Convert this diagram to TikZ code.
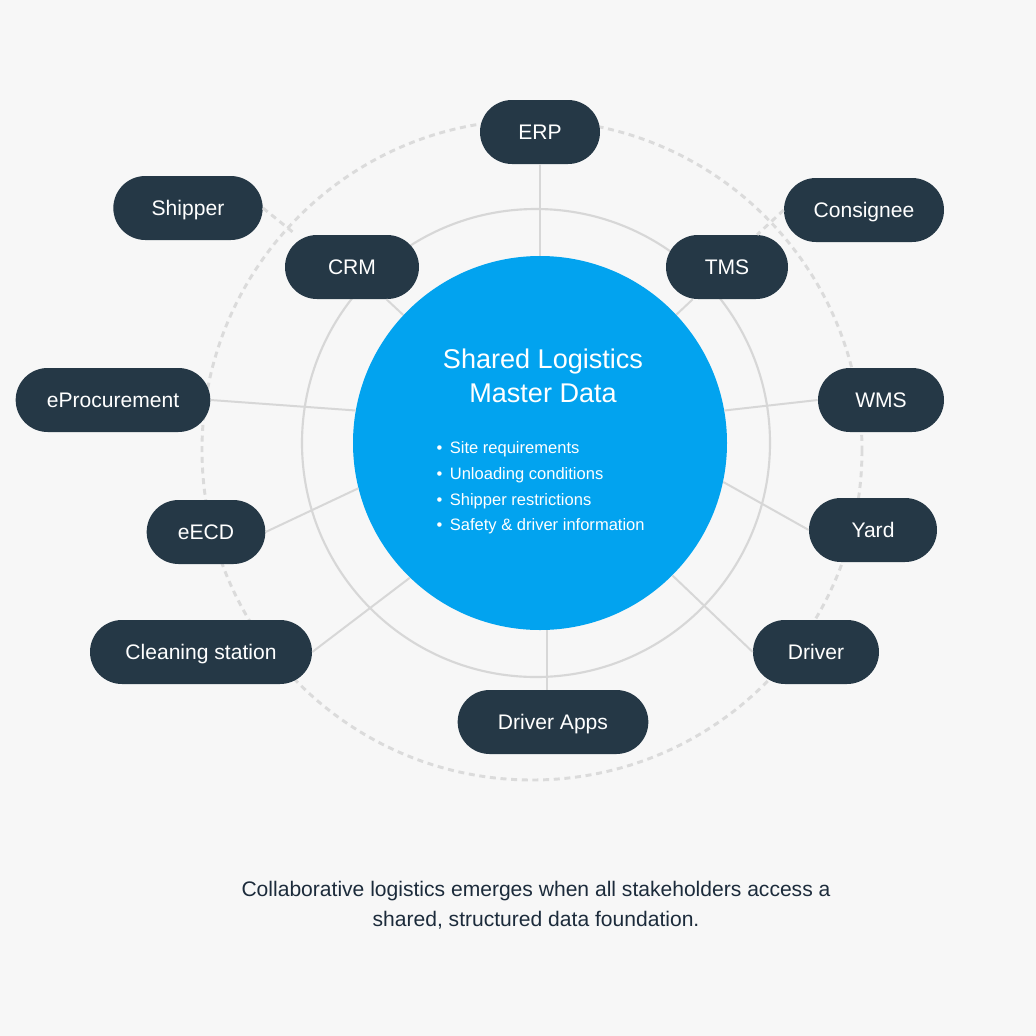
\documentclass[tikz,border=0pt]{standalone}
\usepackage{fontspec}
\setmainfont{Liberation Sans}
\definecolor{HubPage}{HTML}{F7F7F7}
\definecolor{HubNavy}{HTML}{253846}
\definecolor{HubBlue}{HTML}{02A3EF}
\definecolor{HubLine}{HTML}{D7D7D7}
\definecolor{HubDash}{HTML}{DBDBDB}
\definecolor{HubInk}{HTML}{1C2B3B}
\tikzset{
  pill/.style={fill=HubNavy, rounded corners=24pt, align=center, minimum height=48pt, inner sep=0pt, text height=11.3pt, text depth=0pt, text=white, font=\fontsize{15.8}{18}\selectfont},
  hub/.style={circle, fill=HubBlue, minimum size=280.5pt, inner sep=0pt},
  spoke/.style={draw=HubLine, line width=1.5pt},
  link/.style={draw=HubDash, line width=2.2pt, dash pattern=on 4.5pt off 3.5pt},
  ring/.style={draw=HubLine, line width=1.6pt},
  orbit/.style={draw=HubDash, line width=2.2pt, dash pattern=on 4.5pt off 3.5pt},
  caption/.style={align=center, text=HubInk, font=\fontsize{15.8}{22.5}\selectfont}
}
\begin{document}
\begin{tikzpicture}[x=0.75pt, y=-0.75pt]
    \fill[HubPage] (0,0) rectangle (1036,1036);

    % rings
    \draw[orbit] (532,450) circle[radius=330];
    \draw[ring] (536,443) circle[radius=234];

    % hub
    \node[hub] (hub) at (540,443) {};
    \node[text=white, align=center, font=\fontsize{20.3}{25.5}\selectfont] (title) at (543,376) {Shared Logistics\\Master Data};
    \node[text=white, align=left, anchor=west, font=\fontsize{12.4}{19.3}\selectfont] (facts) at (432,488)
      {\textbullet\hspace{5.5pt}Site requirements\\
       \textbullet\hspace{5.5pt}Unloading conditions\\
       \textbullet\hspace{5.5pt}Shipper restrictions\\
       \textbullet\hspace{5.5pt}Safety \& driver information};

    % systems and stakeholders
    \node[pill, minimum width=90pt] (erp) at (540,132) {ERP};
    \node[pill, minimum width=112pt] (shipper) at (188,208) {Shipper};
    \node[pill, minimum width=100.5pt] (crm) at (352,267) {CRM};
    \node[pill, minimum width=120pt] (consignee) at (864,210) {Consignee};
    \node[pill, minimum width=91.5pt] (tms) at (727,267) {TMS};
    \node[pill, minimum width=146pt] (eproc) at (113,400) {eProcurement};
    \node[pill, minimum width=94.5pt] (wms) at (881,400) {WMS};
    \node[pill, minimum width=89pt] (eecd) at (206,532) {eECD};
    \node[pill, minimum width=96pt] (yard) at (873,530) {Yard};
    \node[pill, minimum width=166.5pt] (clean) at (201,652) {Cleaning station};
    \node[pill, minimum width=94.5pt] (driver) at (816,652) {Driver};
    \node[pill, minimum width=143pt] (apps) at (553,722) {Driver Apps};

    % connectors
    \draw[spoke] (erp.south) -- (hub.north);
    \draw[spoke] (crm) -- (hub);
    \draw[spoke] (tms) -- (hub);
    \draw[spoke] (eproc.east) -- (hub.170);
    \draw[spoke] (hub.10) -- (wms.west);
    \draw[spoke] (eecd.east) -- (hub.194);
    \draw[spoke] (hub.-12) -- (yard.west);
    \draw[spoke] (clean.east) -- (hub.226);
    \draw[spoke] (hub.-45) -- (driver.west);
    \draw[spoke] (hub.-88) -- (hub.-88 |- apps.north);
    \draw[link] (shipper.east) -- (crm.150);
    \draw[link] (consignee.west) -- (tms.47);

    \node[caption] (note) at (536,905) {Collaborative logistics emerges when all stakeholders access a\\shared, structured data foundation.};
  \end{tikzpicture}
\end{document}
